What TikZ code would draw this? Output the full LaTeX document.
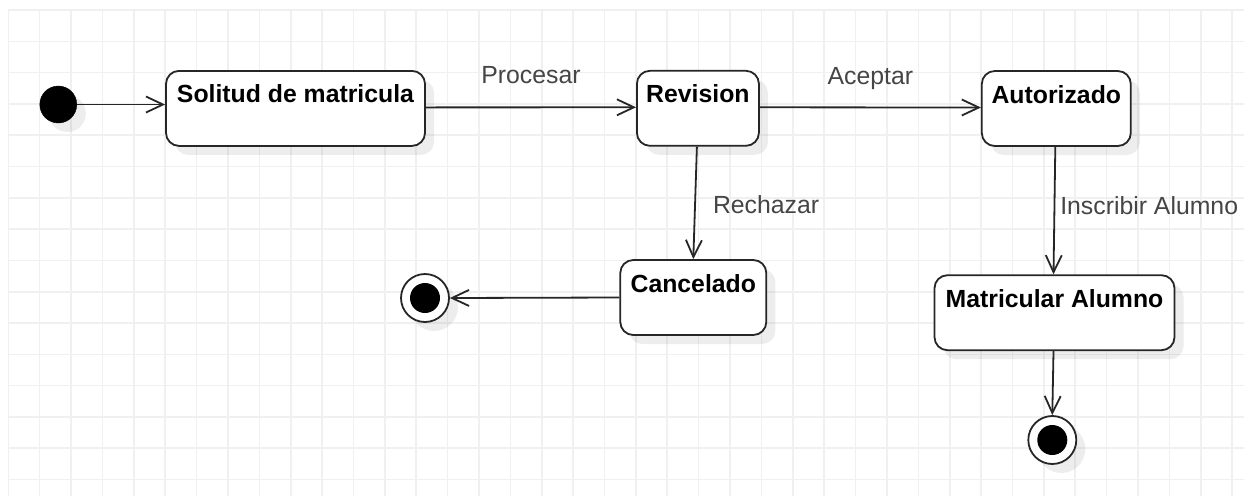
\documentclass[tikz,border=0pt]{standalone}
\usepackage{fontspec}
\setmainfont{Liberation Sans}
\usetikzlibrary{arrows.meta,shadows}
\definecolor{gridc}{HTML}{F0F0F0}
\definecolor{edgec}{HTML}{262626}
\definecolor{labc}{HTML}{454545}
\begin{document}
\begin{tikzpicture}[x=1pt,y=-1pt,
  shad/.style={drop shadow={shadow xshift=9pt,shadow yshift=-9pt,opacity=0.07,fill=black}},
  statebox/.style={shad,rectangle,rounded corners=13pt,draw=edgec,line width=1.8pt,fill=white,
     inner xsep=0pt,inner ysep=0pt,text height=32pt,text depth=43pt,align=center,
     font=\fontsize{24.8}{29}\selectfont\bfseries},
  initst/.style={shad,circle,fill=black,draw=black,inner sep=0pt,minimum size=37pt},
  finalst/.style={shad,circle,draw=edgec,line width=1.8pt,fill=white,inner sep=0pt,minimum size=48pt,
     path picture={\fill[black] (path picture bounding box.center) circle (15pt);}},
  conn/.style={draw=edgec,line width=1.8pt,-{Straight Barb[length=17pt,width=16pt,line width=1.8pt]}},
  elabel/.style={text=labc,font=\fontsize{24.8}{29}\selectfont,inner sep=0pt}
]
\useasboundingbox (0,0) rectangle (1244,496);
\fill[white] (0,0) rectangle (1244,496);
% grid
\foreach \k in {0,...,39} {\draw[gridc,line width=1.6pt] ({8.3+31.38*\k},10) -- ({8.3+31.38*\k},496);}
\foreach \k in {0,...,15} {\draw[gridc,line width=1.6pt] (8.3,{10+31.3*\k}) -- (1244,{10+31.3*\k});}

% states
\node[initst] (init) at (58.3,104.5) {};
\node[statebox,minimum width=259pt,minimum height=75pt] (sol) at (295.5,108.4) {Solitud de matricula};
\node[statebox,minimum width=122pt,minimum height=75pt] (rev) at (697.9,108.3) {Revision};
\node[statebox,minimum width=149pt,minimum height=75pt] (aut) at (1056.3,108.5) {Autorizado};
\node[statebox,minimum width=146pt,minimum height=75pt] (can) at (693.3,297.5) {Cancelado};
\node[statebox,minimum width=240pt,minimum height=75pt] (mat) at (1054.5,312.7) {Matricular Alumno};
\node[finalst] (fin1) at (425,298) {};
\node[finalst] (fin2) at (1052.3,440) {};

% transitions
\draw[conn] (init.east) -- (init -| sol.west);
\draw[conn] ([yshift=1pt]sol.east) -- node[elabel,midway,anchor=base,yshift=23.7pt] {Procesar} ([yshift=1pt]rev.west);
\draw[conn] ([yshift=1pt]rev.east) -- node[elabel,midway,anchor=base,yshift=23pt] {Aceptar} ([yshift=1pt]aut.west);
\draw[conn] ([xshift=-1pt]rev.south) -- node[elabel,midway,anchor=base west,xshift=17pt,yshift=-11pt] {Rechazar} (can.north);
\draw[conn] ([xshift=-1pt]aut.south) -- node[elabel,midway,anchor=base west,xshift=5pt,yshift=-3.5pt] {Inscribir Alumno} ([xshift=-1pt]mat.north);
\draw[conn] (can.west) -- (fin1.east);
\draw[conn] ([xshift=-1pt]mat.south) -- (fin2.north);
\end{tikzpicture}
\end{document}
